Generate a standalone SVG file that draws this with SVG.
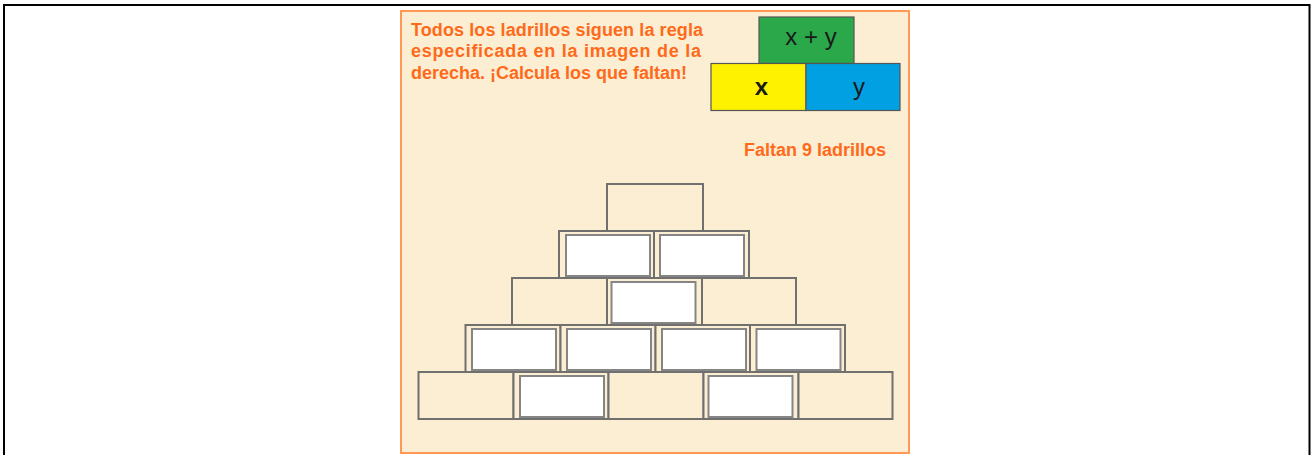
<svg xmlns="http://www.w3.org/2000/svg" width="1312" height="455" viewBox="0 0 1312 455">
<style>
.frame{fill:none;stroke:#000;stroke-width:2}
.panel{fill:#FBEED3;stroke:#FF9955;stroke-width:2}
.t{font-family:"Liberation Sans",Arial,sans-serif;font-weight:bold;font-size:18px;fill:#FF6A1A}
.lg{font-family:"Liberation Sans",Arial,sans-serif;font-size:24px;fill:#1a1a1a;text-anchor:middle}
.brick{fill:#FBEED3;stroke:#707070;stroke-width:2}
.inp{fill:#fff;stroke:#858585;stroke-width:2}
.key{stroke:#555;stroke-width:1.2}
</style>
<rect x="0" y="0" width="1312" height="455" fill="#fff"/>
<path class="frame" d="M4,460 V5 H1309.5 V460"/>
<rect class="panel" x="401" y="11" width="508" height="442"/>
<g id="instructions">
<text class="t" x="411" y="35.5" textLength="292" lengthAdjust="spacing">Todos los ladrillos siguen la regla</text>
<text class="t" x="411" y="57" textLength="290" lengthAdjust="spacing">especificada en la imagen de la</text>
<text class="t" x="411" y="78.5">derecha. ¡Calcula los que faltan!</text>
</g>
<g id="legend">
<rect class="key" x="759" y="17" width="95" height="46.5" fill="#2BA84A"/>
<rect class="key" x="711" y="63.5" width="95" height="47" fill="#FFF200"/>
<rect class="key" x="806" y="63.5" width="94" height="47" fill="#00A0E3"/>
<text class="lg" x="811" y="45">x + y</text>
<text class="lg" x="761.5" y="95" font-weight="bold">x</text>
<text class="lg" x="859" y="95">y</text>
</g>
<g id="missing-count">
<text class="t" x="744" y="155.5">Faltan 9 ladrillos</text>
</g>
<g id="pyramid">
<g id="b1-1"><rect class="brick" x="607" y="184" width="96" height="47"/></g>
<g id="b2-1"><rect class="brick" x="559" y="231" width="95" height="47"/><rect class="inp" x="566" y="235" width="84" height="41"/></g>
<g id="b2-2"><rect class="brick" x="654" y="231" width="95" height="47"/><rect class="inp" x="660" y="235" width="84" height="41"/></g>
<g id="b3-1"><rect class="brick" x="512" y="278" width="95" height="47"/></g>
<g id="b3-2"><rect class="brick" x="607" y="278" width="95" height="47"/><rect class="inp" x="611.5" y="282" width="84" height="41"/></g>
<g id="b3-3"><rect class="brick" x="702" y="278" width="94" height="47"/></g>
<g id="b4-1"><rect class="brick" x="465.5" y="325" width="95" height="47"/><rect class="inp" x="472" y="329" width="84" height="41"/></g>
<g id="b4-2"><rect class="brick" x="560.5" y="325" width="95" height="47"/><rect class="inp" x="567" y="329" width="84" height="41"/></g>
<g id="b4-3"><rect class="brick" x="655.5" y="325" width="94.5" height="47"/><rect class="inp" x="662" y="329" width="84" height="41"/></g>
<g id="b4-4"><rect class="brick" x="750" y="325" width="95" height="47"/><rect class="inp" x="756.5" y="329" width="84" height="41"/></g>
<g id="b5-1"><rect class="brick" x="418.5" y="372" width="95" height="47"/></g>
<g id="b5-2"><rect class="brick" x="513.5" y="372" width="95" height="47"/><rect class="inp" x="520" y="376" width="84" height="41"/></g>
<g id="b5-3"><rect class="brick" x="608.5" y="372" width="95" height="47"/></g>
<g id="b5-4"><rect class="brick" x="703.5" y="372" width="95" height="47"/><rect class="inp" x="708.5" y="376" width="84" height="41"/></g>
<g id="b5-5"><rect class="brick" x="798.5" y="372" width="94" height="47"/></g>
</g>
<g id="connectors"/>
</svg>
